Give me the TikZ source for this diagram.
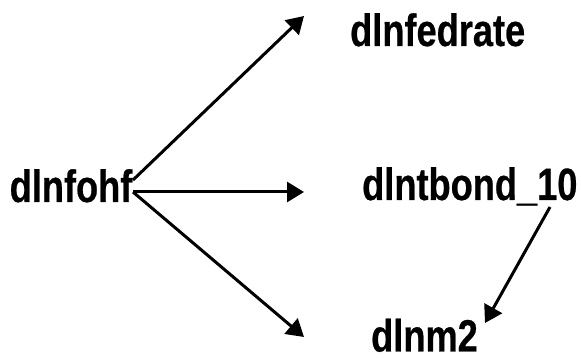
\documentclass[tikz,border=0pt]{standalone}
\usepackage{fontspec}
\setmainfont{Liberation Sans}[BoldFeatures={FakeBold=0.6}]
\usetikzlibrary{arrows.meta,calc}
\newcommand\lbltxt[1]{\scalebox{1}[1.25]{#1}}
\begin{document}
\begin{tikzpicture}[x=1pt,y=1pt,
  lbl/.style={inner sep=0pt,anchor=base west,font=\fontsize{36.2}{40}\selectfont\bfseries},
  conn/.style={line width=3pt,-{Triangle[length=17pt,width=20pt]}}]
\useasboundingbox (0,0) rectangle (581,358);
\node[lbl] (ohf) at (9.5,156) {\lbltxt{dlnfohf}};
\node[lbl] (fed) at (350,312) {\lbltxt{dlnfedrate}};
\node[lbl] (tb) at (362,158) {\lbltxt{dlntbond\_10}};
\node[lbl] (m2) at (371,6.5) {\lbltxt{dlnm2}};
\draw[conn] ($(ohf.base west)+(123.5,22)$) -- ($(fed.base west)+(-46,30)$);
\draw[conn] ($(ohf.base west)+(123.5,10)$) -- ($(tb.base west)+(-58,8)$);
\draw[conn] ($(ohf.base west)+(123.5,10)$) -- ($(m2.base west)+(-67,14.5)$);
\draw[conn] ($(tb.base west)+(188,-7)$) -- ($(m2.base west)+(114,28.5)$);
\end{tikzpicture}
\end{document}
